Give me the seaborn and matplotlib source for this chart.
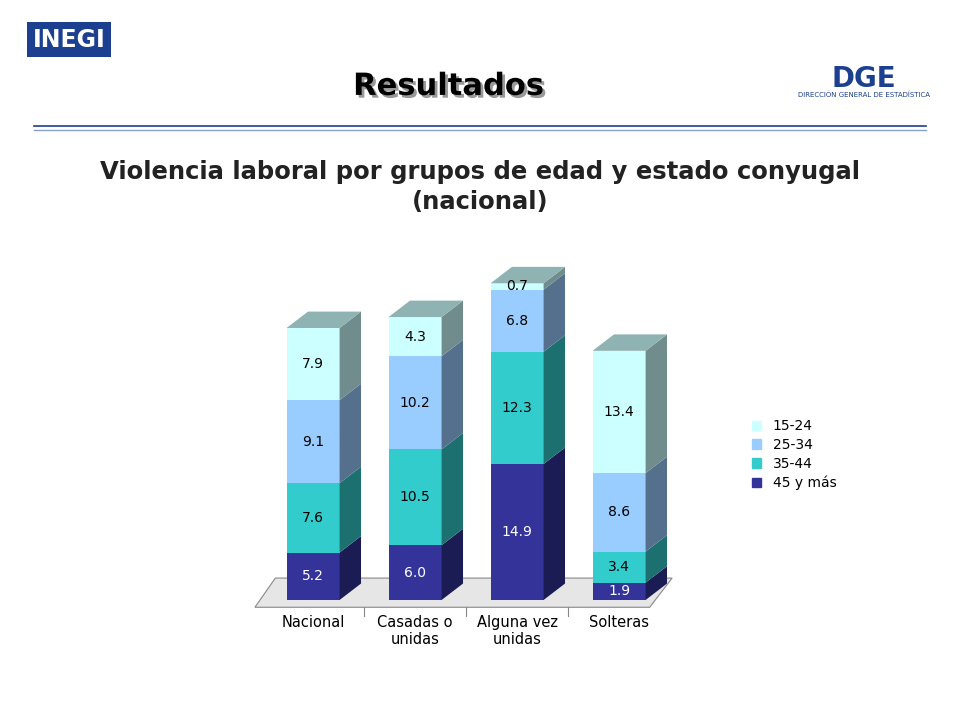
import matplotlib
matplotlib.use("Agg")
import matplotlib.pyplot as plt
import matplotlib.patheffects as pe
import seaborn as sns
import pandas as pd
import numpy as np
from matplotlib.patches import Polygon
import matplotlib.colors as mc

categories = ["Nacional", "Casadas o\nunidas", "Alguna vez\nunidas", "Solteras"]
series = ["45 y más", "35-44", "25-34", "15-24"]
v45 = [5.2, 6.0, 14.9, 1.9]
v35 = [7.6, 10.5, 12.3, 3.4]
v25 = [9.1, 10.2, 6.8, 8.6]
v15 = [7.9, 4.3, 0.7, 13.4]
colors = ["#333399", "#33CCCC", "#99CCFF", "#CCFFFF"]
values = [v45, v35, v25, v15]

fig = plt.figure(figsize=(9.6, 7.2), dpi=100)
ax = fig.add_axes([0.273, 0.1667, 0.425, 0.469])
ax.set_xlim(-0.5, 3.5)
ax.set_ylim(0, 37)
ax.axis("off")

W = 0.52
dx, dy = 0.21, 1.8
ax.add_patch(Polygon([(-0.57, -0.8), (3.3, -0.8), (3.52, 2.4), (-0.37, 2.4)],
                     closed=True, facecolor="#e6e6e6", edgecolor="#888888", lw=0.8, clip_on=False, zorder=0))

bottoms = np.zeros(4)
xs = np.arange(4)
for name, vals, c in zip(series, values, colors):
    df = pd.DataFrame({"cat": categories, "v": vals})
    sns.barplot(data=df, x="cat", y="v", ax=ax, color=c, width=W, bottom=bottoms,
                saturation=1, edgecolor="none", zorder=2)
    dark = np.array(mc.to_rgb(c)) * 0.55
    for i in range(4):
        b, t = bottoms[i], bottoms[i] + vals[i]
        xr = xs[i] + W / 2
        ax.add_patch(Polygon([(xr, b), (xr + dx, b + dy), (xr + dx, t + dy), (xr, t)],
                             closed=True, facecolor=dark, edgecolor="none", zorder=2))
        tc = "white" if name == "45 y más" else "black"
        ax.text(xs[i], b + vals[i] / 2, f"{vals[i]:.1f}", ha="center", va="center",
                fontsize=10, color=tc, zorder=3)
    bottoms = bottoms + np.array(vals)
ax.set_xlim(-0.5, 3.5)
ax.set_ylim(0, 37)
for i in range(4):
    t = bottoms[i]
    xl, xr = xs[i] - W / 2, xs[i] + W / 2
    top = np.array(mc.to_rgb(colors[3])) * 0.7
    ax.add_patch(Polygon([(xl, t), (xr, t), (xr + dx, t + dy), (xl + dx, t + dy)],
                         closed=True, facecolor=top, edgecolor="none", zorder=2))
    ax.text(xs[i], -1.6, categories[i], ha="center", va="top", fontsize=10.5)
for b in [0.5, 1.5, 2.5]:
    ax.plot([b, b], [-0.8, -1.8], color="#888888", lw=0.8, clip_on=False)

handles = [plt.Rectangle((0, 0), 1, 1, color=c) for c in colors[::-1]]
fig.legend(handles, series[::-1], loc="upper left", bbox_to_anchor=(0.77, 0.435),
           frameon=False, fontsize=10, handlelength=0.7, handleheight=0.7, labelspacing=0.35)

fig.text(0.5, 0.74, "Violencia laboral por grupos de edad y estado conyugal\n(nacional)",
         ha="center", va="center", fontsize=17.5, fontweight="bold", color="#222222", linespacing=1.3)
fig.text(0.467, 0.88, "Resultados", ha="center", va="center", fontsize=22, fontweight="bold", color="black",
         path_effects=[pe.SimplePatchShadow(offset=(2, -2), shadow_rgbFace="#999999", alpha=1), pe.Normal()])
fig.text(0.072, 0.945, "INEGI", ha="center", va="center", fontsize=17, fontweight="bold",
         color="white", bbox=dict(facecolor="#1c3f8f", edgecolor="none", pad=4))
fig.text(0.9, 0.89, "DGE", ha="center", va="center", fontsize=20, fontweight="bold", color="#1c3f8f")
fig.text(0.9, 0.868, "DIRECCIÓN GENERAL DE ESTADÍSTICA", ha="center", va="center", fontsize=5, color="#1c3f8f")
fig.add_artist(plt.Line2D([0.035, 0.965], [0.825, 0.825], color="#1c3f8f", lw=1.2))
fig.add_artist(plt.Line2D([0.035, 0.965], [0.819, 0.819], color="#8aa0d0", lw=1.0))
fig.savefig("out.png", dpi=100)
